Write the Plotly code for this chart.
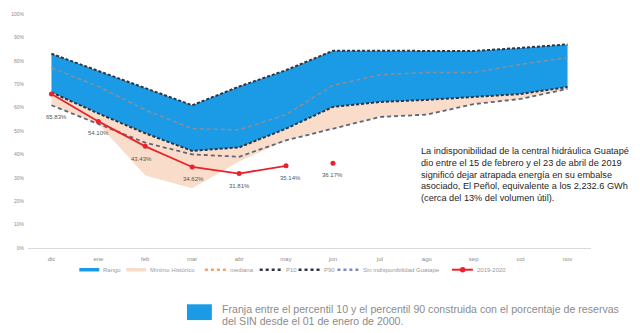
import plotly.graph_objects as go

months = ["dic", "ene", "feb", "mar", "abr", "may", "jun", "jul", "ago", "sep", "oct", "nov"]
p90 = [83.0, 75.7, 68.3, 61.0, 69.0, 76.0, 84.3, 84.3, 84.2, 84.2, 85.5, 87.0]
p10 = [66.5, 57.5, 49.0, 41.5, 43.0, 51.0, 60.3, 62.4, 63.3, 64.6, 65.8, 68.8]
mediana = [77.0, 69.0, 59.0, 51.0, 50.5, 57.0, 69.5, 74.0, 75.0, 75.0, 78.5, 81.4]
sin_indisp = [61.0, 53.0, 45.0, 40.0, 39.0, 46.0, 51.0, 56.0, 57.0, 61.5, 63.7, 68.0]
minimo = [61.0, 53.0, 31.0, 25.5, 37.0, 46.0, 51.0, 56.0, 57.0, 61.5, 63.7, 68.0]
red_months = ["dic", "ene", "feb", "mar", "abr", "may", "jun"]
red_vals = [65.83, 54.10, 43.43, 34.62, 31.81, 35.14, 36.17]
y_ticks = [0, 10, 20, 30, 40, 50, 60, 70, 80, 90, 100]
y_tick_text = [f"{v}%" for v in y_ticks]
legend_names = ["Rango", "Mínimo Histórico", "mediana", "P10", "P90",
                "Sin indisponibilidad Guatape", "2019-2020"]

BLUE = "#1b9be6"
PEACH = "#f9dcc9"
RED = "#e8232c"
DARK = "#2e3440"
ORANGE = "#f3a06e"
SINCOL = "#5d6678"

fig = go.Figure()
fig.add_trace(go.Scatter(x=months, y=minimo, mode="lines", line=dict(width=0),
                         showlegend=False, hoverinfo="skip"))
fig.add_trace(go.Scatter(x=months, y=p10, mode="lines", line=dict(width=0),
                         fill="tonexty", fillcolor=PEACH, name=legend_names[1]))
fig.add_trace(go.Scatter(x=months, y=p90, mode="lines", line=dict(width=0),
                         fill="tonexty", fillcolor=BLUE, name=legend_names[0]))
fig.add_trace(go.Scatter(x=months, y=mediana, mode="lines", name=legend_names[2],
                         line=dict(color="#8a8f9a", width=1.5, dash="4px,3px")))
fig.add_trace(go.Scatter(x=months, y=p10, mode="lines", name=legend_names[3],
                         line=dict(color=DARK, width=2, dash="3px,2px")))
fig.add_trace(go.Scatter(x=months, y=p90, mode="lines", name=legend_names[4],
                         line=dict(color=DARK, width=2, dash="3px,2px")))
fig.add_trace(go.Scatter(x=months, y=sin_indisp, mode="lines", name=legend_names[5],
                         line=dict(color=SINCOL, width=1.8, dash="4px,3px")))
fig.add_trace(go.Scatter(x=red_months[:6], y=red_vals[:6], mode="lines+markers", name=legend_names[6],
                         line=dict(color=RED, width=1.8), marker=dict(color=RED, size=5)))
fig.add_trace(go.Scatter(x=red_months[6:], y=red_vals[6:], mode="markers", showlegend=False,
                         marker=dict(color=RED, size=5)))

L, R, T, B = 26.5, 591.5, 11, 248
W = R - L
H = B - T


def px(x):
    return (x - L) / W


def py(y):
    return (B - y) / H


annotations = []
# point labels for 2019-2020
label_xshift = [5, 0, -4, 1, 0, 4, 0]
label_yshift = [-23, -12, -13, -12, -12, -12, -12]
for m, v, dx, dy in zip(red_months, red_vals, label_xshift, label_yshift):
    annotations.append(dict(x=m, y=v, xref="x", yref="y", text=f"{v:.2f}%", showarrow=False,
                            xshift=dx, yshift=dy, font=dict(size=6, color="#555")))

para_lines = ["La indisponibilidad de la central hidráulica Guatapé",
              "dio entre el 15 de febrero y el 23 de abril de 2019",
              "significó dejar atrapada energía en su embalse",
              "asociado, El Peñol, equivalente a los 2,232.6 GWh",
              "(cerca del 13% del volumen útil)."]
para_y = [150, 162, 174, 185.5, 197]
for t, yy in zip(para_lines, para_y):
    annotations.append(dict(text=t, xref="paper", yref="paper", x=px(419), y=py(yy),
                            xanchor="left", yanchor="middle", showarrow=False,
                            font=dict(size=9.2, color="#262626",
                                      family="Liberation Sans, Arial, sans-serif")))

foot_lines = ["Franja entre el percentil 10 y el percentil 90 construida con el porcentaje de reservas",
              "del SIN desde el 01 de enero de 2000."]
foot_y = [310, 321.5]
for t, yy in zip(foot_lines, foot_y):
    annotations.append(dict(text=t, xref="paper", yref="paper", x=px(219), y=py(yy),
                            xanchor="left", yanchor="middle", showarrow=False,
                            font=dict(size=10.6, color="#8c8c8c",
                                      family="Liberation Sans, Arial, sans-serif")))

shapes = [dict(type="rect", xref="paper", yref="paper", x0=px(186), x1=px(211),
               y0=py(321), y1=py(305), fillcolor=BLUE, line=dict(width=0), layer="above")]

# custom compact legend (symbols + labels)
leg_y = py(270)
leg_sym_x = [(78, 98), (125, 145), (204, 225), (259, 281), (298, 320), (337, 359), (452, 473)]
leg_styles = [dict(color=BLUE, width=3.5, dash="solid"),
              dict(color=PEACH, width=3.5, dash="solid"),
              dict(color=ORANGE, width=2.5, dash="3px,3px"),
              dict(color=DARK, width=2.5, dash="3px,3px"),
              dict(color=DARK, width=2.5, dash="3px,3px"),
              dict(color="#7f8ab8", width=2.5, dash="3px,3px"),
              dict(color=RED, width=2, dash="solid")]
for (x0, x1), st, name in zip(leg_sym_x, leg_styles, legend_names):
    shapes.append(dict(type="line", xref="paper", yref="paper", x0=px(x0), x1=px(x1),
                       y0=leg_y, y1=leg_y, line=st))
    annotations.append(dict(text=name, xref="paper", yref="paper", x=px(x1 + 2), y=leg_y,
                            xanchor="left", yanchor="middle", showarrow=False,
                            font=dict(size=6, color="#9a9a9a")))
shapes.append(dict(type="circle", xref="paper", yref="paper", x0=px(460), x1=px(465.5),
                   y0=py(272.7), y1=py(267.3), fillcolor=RED, line=dict(width=0)))

fig.update_layout(
    width=640, height=333,
    margin=dict(l=L, r=640 - R, t=T, b=333 - B, pad=0),
    paper_bgcolor="white", plot_bgcolor="white",
    font=dict(family="Liberation Sans, Arial, sans-serif", size=6, color="#8c8c8c"),
    showlegend=False,
    xaxis=dict(type="category", categoryorder="array", categoryarray=months,
               range=[-0.5, 11.5], showgrid=False, showline=True, linecolor="#d9d9d9",
               linewidth=1, ticks="", ticklabelstandoff=5,
               tickfont=dict(size=6, color="#8c8c8c"), fixedrange=True),
    yaxis=dict(range=[0, 100], tickvals=y_ticks, ticktext=y_tick_text, showgrid=False,
               zeroline=False, showline=False, ticks="", ticklabelstandoff=3,
               tickfont=dict(size=5, color="#8c8c8c"), fixedrange=True),
    annotations=annotations,
    shapes=shapes,
)

fig.write_html("out.html")
